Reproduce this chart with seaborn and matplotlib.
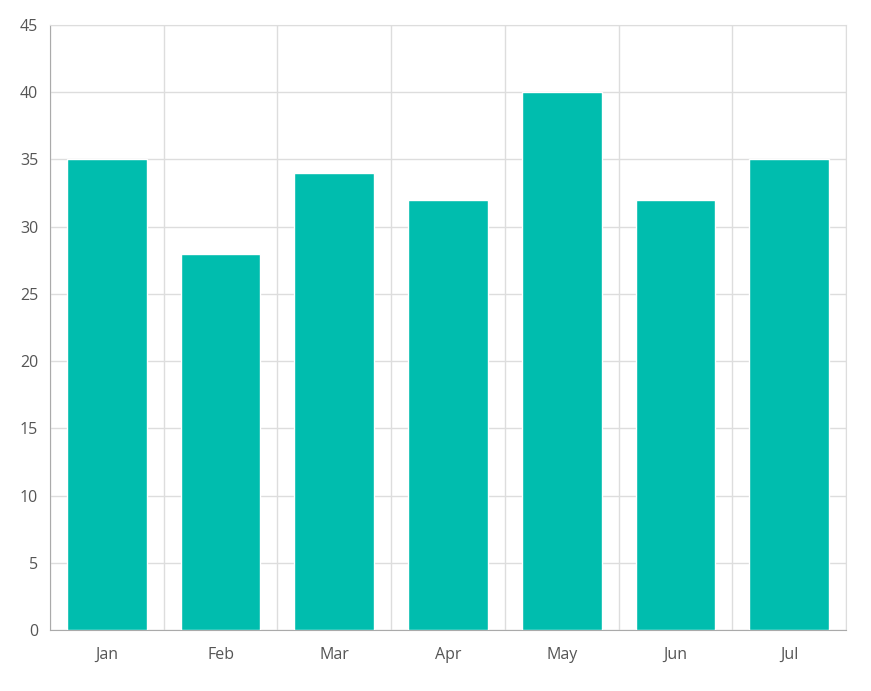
import numpy as np
import pandas as pd
import matplotlib
matplotlib.use("Agg")
import matplotlib.pyplot as plt
import seaborn as sns

months = ["Jan", "Feb", "Mar", "Apr", "May", "Jun", "Jul"]
values = [35, 28, 34, 32, 40, 32, 35]

df = pd.DataFrame({"month": months, "value": values})

sns.set_style("white")
plt.rcParams["font.family"] = ["Open Sans", "DejaVu Sans"]

fig = plt.figure(figsize=(8.71, 6.91), dpi=100)
ax = fig.add_axes([50 / 871, 61 / 691, 796 / 871, 605 / 691])

sns.barplot(data=df, x="month", y="value", color="#00BDAE", saturation=1,
            width=0.7, ax=ax, zorder=3)

ax.set_xlim(-0.5, len(months) - 0.5)
ax.set_ylim(0, 45)
ax.set_yticks(np.arange(0, 46, 5))
ax.set_xticks(np.arange(-0.5, len(months), 1), minor=True)
ax.grid(axis="y", color="#dddddd", linewidth=1, zorder=0)
ax.grid(axis="x", which="minor", color="#dddddd", linewidth=1, zorder=0)
ax.set_axisbelow(True)

ax.set_xlabel("")
ax.set_ylabel("")
ax.tick_params(axis="x", which="major", length=0, pad=12, labelsize=11.5, colors="#555555")
ax.tick_params(axis="x", which="minor", length=6, direction="out", color="#aaaaaa")
ax.tick_params(axis="y", length=5, color="#aaaaaa", labelsize=11.5, labelcolor="#555555")

for side in ["left", "bottom"]:
    ax.spines[side].set_color("#aaaaaa")
for side in ["top", "right"]:
    ax.spines[side].set_color("#dddddd")

fig.savefig("out.png", dpi=100)
